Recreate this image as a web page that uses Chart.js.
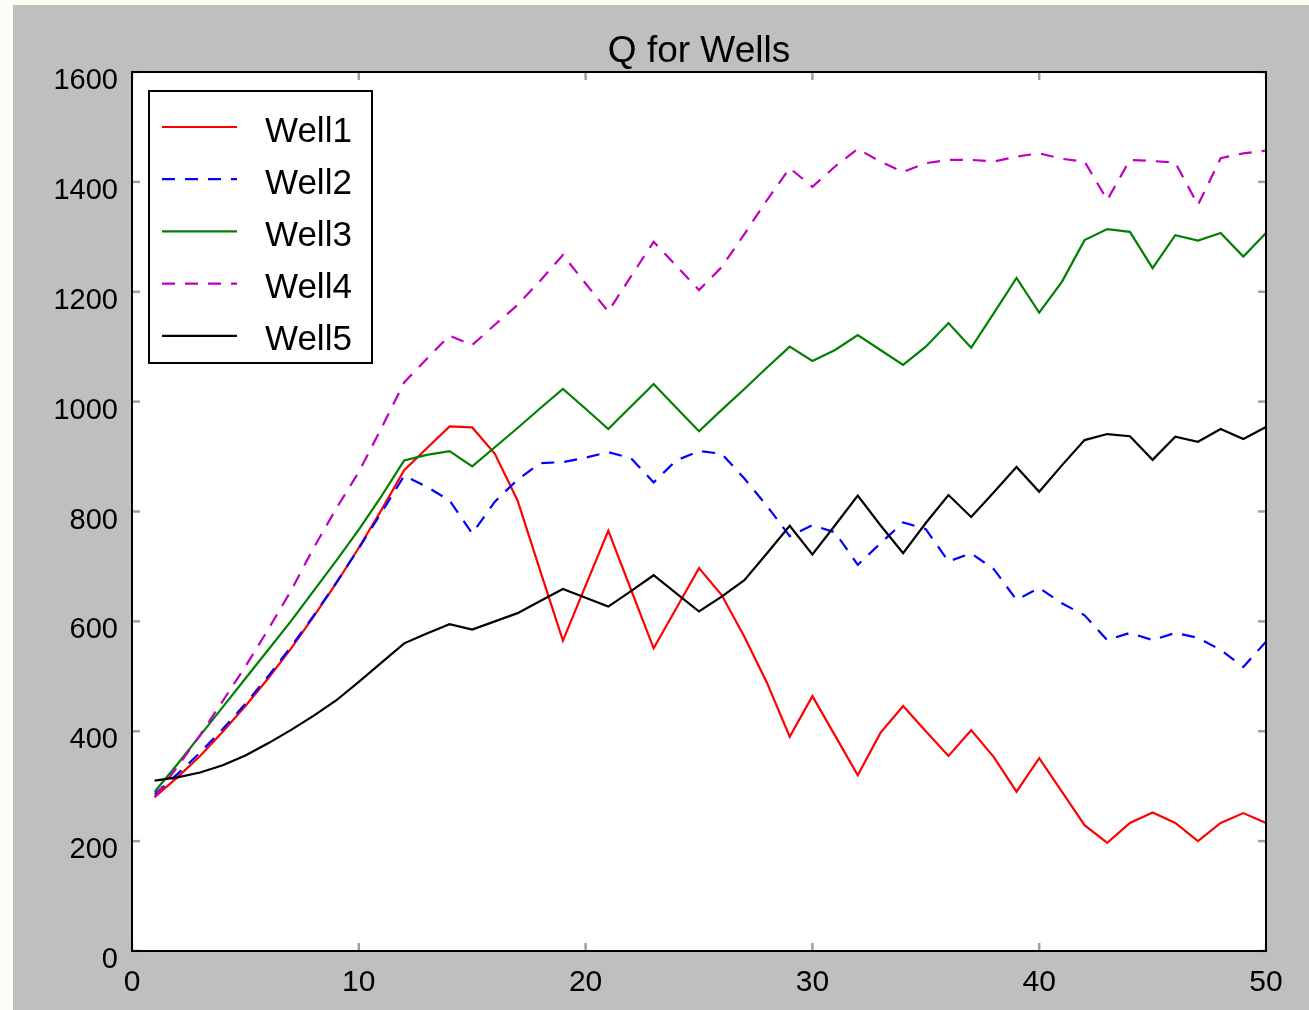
<!DOCTYPE html>
<html><head><meta charset="utf-8">
<script src="https://cdn.jsdelivr.net/npm/chart.js@4.4.1/dist/chart.umd.min.js"></script>
<style>
html,body{margin:0;padding:0;background:#fdfdf5;width:1309px;height:1010px;overflow:hidden;}
#panel{position:absolute;left:13px;top:5px;width:1296px;height:1005px;background:#bfbfbf;}
#c{position:absolute;left:0;top:0;}
</style></head><body>
<div id="panel"></div>
<canvas id="c" width="1309" height="1010"></canvas>
<script>
const chartTitle = 'Q for Wells';
const seriesNames = ['Well1','Well2','Well3','Well4','Well5'];
const steps = [1,2,3,4,5,6,7,8,9,10,11,12,13,14,15,16,17,18,19,20,21,22,23,24,25,26,27,28,29,30,31,32,33,34,35,36,37,38,39,40,41,42,43,44,45,46,47,48,49,50];
const xTickValues = [0,10,20,30,40,50];
const yTickValues = [0,200,400,600,800,1000,1200,1400,1600];

const well1 = [280,316,355,399,446,496,550,608,669,734,803,875,915,955,953,905,820,692,565,665,765,658,551,624,697,648,572,488,390,464,392,320,397,446,400,355,402,353,290,351,290,229,197,233,252,233,200,233,251,233];
const well2 = [285,322,361,404,450,500,553,610,670,733,798,865,845,820,760,818,858,888,890,898,908,897,853,893,910,905,860,810,755,775,762,703,742,780,768,709,724,695,639,661,633,611,566,579,566,579,570,548,517,563];
const well3 = [290,340,392,444,496,548,600,655,710,767,828,893,903,910,882,917,952,988,1023,987,950,991,1032,989,946,985,1023,1062,1100,1074,1094,1121,1094,1067,1100,1143,1098,1161,1225,1162,1218,1294,1314,1309,1243,1303,1293,1307,1264,1307];
const well4 = [280,335,393,455,518,585,655,733,805,872,952,1035,1078,1120,1103,1140,1176,1220,1267,1215,1164,1228,1291,1247,1203,1245,1305,1367,1425,1391,1428,1460,1437,1418,1434,1440,1440,1437,1446,1452,1442,1437,1367,1440,1438,1435,1358,1443,1452,1457];
const well5 = [310,316,325,338,356,378,402,428,456,490,525,560,578,595,585,600,615,637,659,643,627,655,684,651,618,645,675,724,774,722,775,829,775,724,779,830,790,835,881,836,884,930,941,937,894,936,927,950,932,954];

const seriesValues = [well1, well2, well3, well4, well5];
const seriesColors = ['#ff0000','#0000ff','#008000','#bf00bf','#000000'];
const seriesDashes = [[], [13,10], [], [13,10], []];

const FONT = "'Liberation Sans', Arial, Helvetica, sans-serif";

const datasets = seriesNames.map((name, i) => ({
  label: name,
  data: steps.map((s, j) => ({x: s, y: seriesValues[i][j]})),
  borderColor: seriesColors[i],
  backgroundColor: seriesColors[i],
  borderDash: seriesDashes[i],
  borderWidth: 2.2,
  pointRadius: 0,
  tension: 0,
  fill: false,
  order: seriesNames.length - 1 - i
}));

const framePlugin = {
  id: 'frame',
  afterLayout(chart) {
    const tb = chart.titleBlock, a = chart.chartArea;
    if (tb) { tb.left = a.left; tb.right = a.right; tb.width = a.right - a.left; }
  },
  beforeDraw(chart) {
    const {ctx, chartArea: a} = chart;
    ctx.save();
    ctx.fillStyle = '#ffffff';
    ctx.fillRect(a.left, a.top, a.right - a.left, a.bottom - a.top);
    ctx.restore();
  },
  afterDatasetsDraw(chart) {
    const {ctx, chartArea: a, scales: {x, y}} = chart;
    const L = Math.round(a.left), R = Math.round(a.right), T = Math.round(a.top), B = Math.round(a.bottom);
    ctx.save();
    ctx.strokeStyle = '#a0a0a0';
    ctx.lineWidth = 2.5;
    const len = 8;
    const seg = (x1, y1, x2, y2) => { ctx.beginPath(); ctx.moveTo(x1, y1); ctx.lineTo(x2, y2); ctx.stroke(); };
    x.ticks.forEach(t => { const px = x.getPixelForValue(t.value); seg(px, B, px, B - len); seg(px, T, px, T + len); });
    y.ticks.forEach(t => { const py = y.getPixelForValue(t.value); seg(L, py, L + len, py); seg(R, py, R - len, py); });
    ctx.strokeStyle = '#000000';
    ctx.lineWidth = 2;
    ctx.strokeRect(L, T, R - L, B - T);
    const bx = 149, by = 91, bw = 223, bh = 272;
    ctx.fillStyle = '#ffffff';
    ctx.fillRect(bx, by, bw, bh);
    ctx.strokeStyle = '#000000';
    ctx.lineWidth = 2;
    ctx.strokeRect(bx, by, bw, bh);
    ctx.font = '35px ' + FONT;
    ctx.textAlign = 'left';
    ctx.textBaseline = 'alphabetic';
    chart.data.datasets.forEach((ds, i) => {
      const ry = 127 + i * 52.2;
      ctx.strokeStyle = ds.borderColor;
      ctx.lineWidth = 2.2;
      ctx.setLineDash(ds.borderDash || []);
      seg(162, ry, 237, ry);
      ctx.setLineDash([]);
      ctx.fillStyle = '#000000';
      ctx.fillText(ds.label, 265, ry + 14.5);
    });
    ctx.restore();
  }
};

Chart.defaults.font.family = FONT;
Chart.defaults.color = '#000000';

new Chart(document.getElementById('c'), {
  type: 'line',
  data: { datasets },
  options: {
    responsive: false,
    devicePixelRatio: 1,
    animation: false,
    events: [],
    layout: { padding: { left: 0, right: 43, top: 0, bottom: 0 } },
    plugins: {
      legend: { display: false },
      tooltip: { enabled: false },
      title: {
        display: true,
        text: chartTitle,
        color: '#000000',
        font: { size: 37, weight: 'normal', family: FONT, lineHeight: 1.0 },
        padding: { top: 33, bottom: 2 }
      }
    },
    scales: {
      x: {
        type: 'linear',
        min: 0, max: 50,
        afterBuildTicks: s => { s.ticks = xTickValues.map(v => ({value: v})); },
        afterFit: s => { s.height = 59; },
        grid: { display: false, drawTicks: false },
        border: { display: false },
        ticks: { font: { size: 30, family: FONT }, color: '#000', padding: 14, maxRotation: 0, autoSkip: false,
                 callback: v => String(v) }
      },
      y: {
        type: 'linear',
        min: 0, max: 1600,
        afterBuildTicks: s => { s.ticks = yTickValues.map(v => ({value: v})); },
        afterFit: s => { s.width = 132; },
        grid: { display: false, drawTicks: false },
        border: { display: false },
        ticks: { font: { size: 29, family: FONT }, color: '#000', padding: 14, labelOffset: 9, autoSkip: false,
                 callback: v => String(v) }
      }
    }
  },
  plugins: [framePlugin]
});
</script>
</body></html>
